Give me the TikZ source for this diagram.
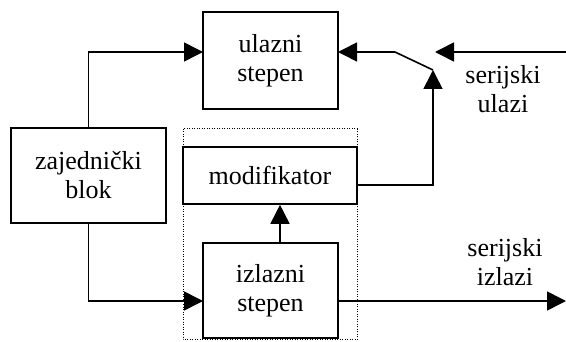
\documentclass[tikz,border=0pt]{standalone}
\usepackage{fontspec}
\setmainfont{Liberation Serif}
\usetikzlibrary{arrows.meta}
\begin{document}
\begin{tikzpicture}[x=1pt,y=-1pt,
  every node/.style={font=\fontsize{26}{29}\selectfont},
  block/.style={draw,line width=1.6pt,rectangle,inner sep=0pt,align=center},
  wire/.style={line width=1.6pt},
  arr/.style={wire,-{Triangle[length=19pt,width=19pt]}},
  frame/.style={line width=1pt,dash pattern=on 1pt off 1.5pt}]
\useasboundingbox (0,0) rectangle (566,342);

% group frame around modifier and output stage
\draw[frame] (183,129) rectangle (357,340);

% blocks
\node[block,minimum width=135pt,minimum height=97pt] (ul) at (270.5,60.5) {ulazni\\stepen};
\node[block,minimum width=155pt,minimum height=95pt] (zaj) at (88.5,175.5) {zajednički\\blok};
\node[block,minimum width=174pt,minimum height=57pt] (mod) at (270,175.5) {modifikator};
\node[block,minimum width=135pt,minimum height=95pt] (iz) at (270.5,290.5) {izlazni\\stepen};

% free ends and switch points
\coordinate (ulin) at (203,52);
\coordinate (ulr) at (338,52);
\coordinate (izin) at (203,301);
\coordinate (izout) at (338,301);
\coordinate (sw) at (395,52);
\coordinate (swpin) at (433,70);
\coordinate (serin) at (566,52);
\coordinate (serinend) at (435,52);
\coordinate (serout) at (566,301);
\coordinate (modout) at (357,185);

% connectors
\draw[arr] (zaj.north) |- (ulin);
\draw[arr] (zaj.south) |- (izin);
\draw[arr] (izout) -- (serout);
\draw[arr] (iz.north -| 280,0) -- (mod.south -| 280,0);
\draw[arr] (modout) -| (swpin);
\draw[wire] (swpin) -- (sw);
\draw[arr] (sw) -- (ulr);
\draw[arr] (serin) -- (serinend);

% labels
\node[align=center] (lin) at (503,89) {serijski\\ulazi};
\node[align=center] (lout) at (505,262) {serijski\\izlazi};
\end{tikzpicture}
\end{document}
